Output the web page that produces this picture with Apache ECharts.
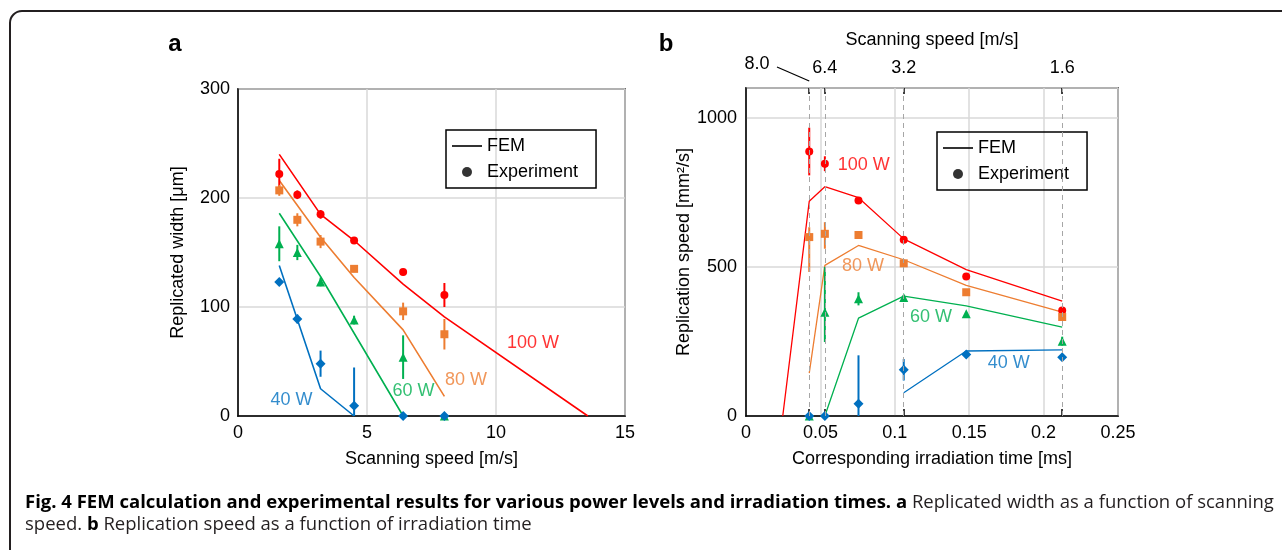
<!DOCTYPE html>
<html>
<head>
<meta charset="utf-8">
<script src="https://cdn.jsdelivr.net/npm/echarts@6/dist/echarts.min.js"></script>
<style>
html, body { margin: 0; padding: 0; background: #fff; }
#main { width: 1282px; height: 550px; }
</style>
</head>
<body>
<div id="main"></div>
<script>
var FONT = '"Liberation Sans", Arial, sans-serif';
var RED = '#ff0000', ORANGE = '#ed7d31', GREEN = '#00b050', BLUE = '#0070c0';

// panel a: replicated width vs scanning speed
var speedA = [1.6, 2.3, 3.2, 4.5, 6.4, 8.0];
var expA100 = [222, 203, 185, 161, 132, 111];
var errA100 = [14, 4, 4, 3, 3, 11];
var expA80 = [207, 180, 160, 135, 96, 75];
var errA80 = [5, 6, 6, 3, 8, 14];
var expA60 = [158, 150, 123, 88, 54, 0];
var errA60 = [16, 7, 4, 4, 20, 0];
var expA40 = [123, 89, 48, 9.5, 0, 0];
var errA40 = [3, 4, 12, 35, 0, 0];

var femAx100 = [1.6, 3.2, 4.5, 6.4, 8.0, 13.56];
var femAy100 = [240, 185, 161, 121, 91, 0];
var femAx80 = [1.6, 3.2, 4.5, 6.4, 8.0];
var femAy80 = [216, 164, 127, 79, 18];
var femAx60 = [1.6, 3.2, 6.4];
var femAy60 = [186, 128, 0];
var femAx40 = [1.6, 3.2, 4.5];
var femAy40 = [138, 25, 0];

// panel b: replication speed vs irradiation time
var timeB = [0.0425, 0.053, 0.0756, 0.106, 0.148, 0.2125];
var expB100 = [887, 846, 723, 591, 468, 354];
var errB100 = [80, 25, 10, 8, 5, 8];
var expB80 = [600, 611, 607, 512, 415, 332];
var errB80 = [[117, 33], [50, 39], 5, 10, 5, 6];
var expB60 = [0, 348, 393, 397, 343, 251];
var errB60 = [0, [100, 152], 22, 8, 6, 15];
var expB40 = [0, 0, 41.5, 155, 206, 197];
var errB40 = [0, 0, 162, 36, 3, 3];

var femBx100 = [0.0247, 0.0425, 0.053, 0.0756, 0.106, 0.148, 0.2125];
var femBy100 = [0, 720, 769, 732, 594, 491, 385];
var femBx80 = [0.0425, 0.053, 0.0756, 0.106, 0.148, 0.2125];
var femBy80 = [144, 505, 572, 524, 438, 348];
var femBx60 = [0.053, 0.0756, 0.106, 0.148, 0.2125];
var femBy60 = [0, 328, 402, 369, 298];
var femBx40 = [0.106, 0.148, 0.2125];
var femBy40 = [78, 218, 222];

// top axis of panel b: scanning speed at the matching irradiation time
var topTicks = [0.0425, 0.053, 0.106, 0.2125];
var topSpeeds = ['8.0', '6.4', '3.2', '1.6'];

var powerNames = ['100 W', '80 W', '60 W', '40 W'];
var labelPosA = [[11.43, 67], [8.84, 33], [6.8, 23], [2.07, 15]];
var labelPosB = [[0.0791, 840], [0.0786, 503], [0.1243, 332], [0.1766, 176]];
var colors = [RED, ORANGE, GREEN, BLUE];
var symbols = ['circle', 'rect', 'triangle', 'diamond'];
var symbolSizes = [8, 8, 9, 10];

function zip(xs, ys) {
    return xs.map(function (x, i) { return [x, ys[i]]; });
}

function femLine(xi, xs, ys, color, w) {
    return {
        type: 'line', xAxisIndex: xi, yAxisIndex: xi, data: zip(xs, ys),
        symbol: 'none', silent: true, z: 2, clip: true,
        lineStyle: { color: color, width: w }
    };
}

function expPoints(xi, xs, ys, symbol, color, size) {
    return {
        type: 'scatter', xAxisIndex: xi, yAxisIndex: xi, data: zip(xs, ys),
        symbol: symbol, symbolSize: size, silent: true, z: 4, clip: false,
        itemStyle: { color: color, opacity: 1 }
    };
}

function errBars(xi, xs, ys, err, color, w) {
    var data = [];
    xs.forEach(function (x, i) {
        var e = err[i];
        var dn = Array.isArray(e) ? e[0] : e;
        var up = Array.isArray(e) ? e[1] : e;
        if (dn + up > 0) data.push([x, ys[i] - dn, ys[i] + up]);
    });
    return {
        type: 'custom', xAxisIndex: xi, yAxisIndex: xi, silent: true, clip: true, z: 3,
        renderItem: function (params, api) {
            var p0 = api.coord([api.value(0), api.value(1)]);
            var p1 = api.coord([api.value(0), api.value(2)]);
            return {
                type: 'line',
                shape: { x1: p0[0], y1: p0[1], x2: p1[0], y2: p1[1] },
                style: { stroke: color, lineWidth: w }
            };
        },
        data: data
    };
}

function powerLabels(xi, pos) {
    return {
        type: 'scatter', xAxisIndex: xi, yAxisIndex: xi, symbolSize: 0, silent: true, z: 5,
        data: pos.map(function (p, i) {
            return {
                value: p, name: powerNames[i],
                label: { show: true, position: 'inside', formatter: '{b}', color: colors[i],
                    fontSize: 18, fontFamily: FONT }
            };
        })
    };
}

var series = [];
var expA = [expA100, expA80, expA60, expA40], errA = [errA100, errA80, errA60, errA40];
var femAx = [femAx100, femAx80, femAx60, femAx40], femAy = [femAy100, femAy80, femAy60, femAy40];
var expB = [expB100, expB80, expB60, expB40], errB = [errB100, errB80, errB60, errB40];
var femBx = [femBx100, femBx80, femBx60, femBx40], femBy = [femBy100, femBy80, femBy60, femBy40];

for (var k = 0; k < 4; k++) {
    series.push(femLine(0, femAx[k], femAy[k], colors[k], 1.6));
    series.push(errBars(0, speedA, expA[k], errA[k], colors[k], 2));
    series.push(femLine(1, femBx[k], femBy[k], colors[k], 1.3));
    series.push(errBars(1, timeB, expB[k], errB[k], colors[k], 2));
}
for (var m = 0; m < 4; m++) {
    series.push(expPoints(0, speedA, expA[m], symbols[m], colors[m], symbolSizes[m]));
    series.push(expPoints(1, timeB, expB[m], symbols[m], colors[m], symbolSizes[m]));
}
series.push(powerLabels(0, labelPosA));
series.push(powerLabels(1, labelPosB));

// dashed guides at the measured irradiation times
series.push({
    type: 'line', xAxisIndex: 1, yAxisIndex: 1, data: [], silent: true,
    markLine: {
        silent: true, symbol: 'none', precision: 5, label: { show: false },
        lineStyle: { type: [5, 4], color: '#a6a6a6', width: 1 },
        data: topTicks.map(function (t) { return { xAxis: t }; })
    }
});

// legend entries
series.push({ name: 'FEM', type: 'scatter', data: [], itemStyle: { color: '#000' } });
series.push({ name: 'Experiment', type: 'scatter', data: [], symbol: 'circle',
    itemStyle: { color: '#000' } });

var gridLine = { show: true, lineStyle: { color: '#d9d9d9', width: 1.5 } };
var axisLine = { show: true, onZero: false, lineStyle: { color: '#000', width: 1.5 } };
var tickLabel = { color: '#000', fontSize: 18, fontFamily: FONT, margin: 8 };
var nameStyle = { color: '#000', fontSize: 18, fontFamily: FONT };

function legendBox(left, top) {
    return {
        left: left, top: top, orient: 'vertical',
        data: [{ name: 'FEM', icon: 'path://M0 0H30V2H0Z' }, { name: 'Experiment', icon: 'circle' }],
        borderColor: '#000', borderWidth: 1.5, padding: [7, 18, 7, 6], itemGap: 8,
        itemWidth: 30, itemHeight: 10, selectedMode: false, symbolKeepAspect: true,
        textStyle: { color: '#000', fontSize: 18, fontFamily: FONT }
    };
}

var chart = echarts.init(document.getElementById('main'));
chart.setOption({
    animation: false,
    backgroundColor: '#fff',
    grid: [
        { left: 238, top: 89, width: 387, height: 327, show: true, borderColor: '#000', borderWidth: 1.5 },
        { left: 746, top: 88, width: 372, height: 328, show: true, borderColor: '#000', borderWidth: 1.5 }
    ],
    legend: [legendBox(446, 130), legendBox(937, 132)],
    xAxis: [
        { gridIndex: 0, type: 'value', min: 0, max: 15, interval: 5,
          name: 'Scanning speed [m/s]', nameLocation: 'middle', nameGap: 34, nameTextStyle: nameStyle,
          axisLine: axisLine, axisTick: { show: false }, axisLabel: tickLabel, splitLine: gridLine },
        { gridIndex: 1, type: 'value', min: 0, max: 0.25, interval: 0.05,
          name: 'Corresponding irradiation time [ms]', nameLocation: 'middle', nameGap: 34, nameTextStyle: nameStyle,
          axisLine: axisLine, axisTick: { show: false }, axisLabel: tickLabel, splitLine: gridLine },
        { gridIndex: 1, type: 'value', min: 0, max: 0.25, position: 'top',
          name: 'Scanning speed [m/s]', nameLocation: 'middle', nameGap: 39, nameTextStyle: nameStyle,
          axisLine: { show: false }, splitLine: { show: false },
          axisTick: { show: true, customValues: topTicks, length: 7, lineStyle: { color: '#000', width: 1.5 } },
          axisLabel: { color: '#000', fontSize: 18, fontFamily: FONT, margin: 11,
              customValues: topTicks.slice(1),
              formatter: function (v) {
                  var i = topTicks.indexOf(v);
                  return i >= 0 ? topSpeeds[i] : '';
              } } },
        { gridIndex: 1, type: 'value', min: 0, max: 0.25, position: 'top',
          axisLine: { show: false }, splitLine: { show: false }, axisLabel: { show: false },
          axisTick: { show: true, inside: true, customValues: topTicks, length: 6,
              lineStyle: { color: '#000', width: 1.5 } } }
    ],
    yAxis: [
        { gridIndex: 0, type: 'value', min: 0, max: 300, interval: 100,
          name: 'Replicated width [μm]', nameLocation: 'middle', nameGap: 51, nameTextStyle: nameStyle,
          axisLine: axisLine, axisTick: { show: false }, axisLabel: tickLabel, splitLine: gridLine },
        { gridIndex: 1, type: 'value', min: 0, max: 1100, interval: 500,
          name: 'Replication speed [mm²/s]', nameLocation: 'middle', nameGap: 51, nameTextStyle: nameStyle,
          axisLine: axisLine, axisTick: { show: false },
          axisLabel: { color: '#000', fontSize: 18, fontFamily: FONT, margin: 9, showMaxLabel: false,
              formatter: function (v) { return String(v); } },
          splitLine: gridLine }
    ],
    series: series
});

// leader line for the crowded 8.0 label, figure frame, panel letters and caption
var tickPx = chart.convertToPixel({ xAxisIndex: 2 }, topTicks[0]);
var capFont = '"Open Sans", "Noto Sans", sans-serif';
var capNormal = { fontSize: 18.5, fontFamily: capFont, fill: '#231f20' };
var capBold = { fontSize: 18.5, fontFamily: capFont, fill: '#000', fontWeight: 'bold' };
chart.setOption({
    graphic: [
        { type: 'rect', shape: { x: 10, y: 11, width: 1300, height: 580, r: 12 },
          style: { fill: null, stroke: '#231f20', lineWidth: 2 }, silent: true },
        { type: 'text', x: 175, y: 44, style: { text: 'a', fontSize: 24, fontWeight: 'bold',
          fontFamily: FONT, fill: '#000', align: 'center', verticalAlign: 'middle' } },
        { type: 'text', x: 666, y: 44, style: { text: 'b', fontSize: 24, fontWeight: 'bold',
          fontFamily: FONT, fill: '#000', align: 'center', verticalAlign: 'middle' } },
        { type: 'text', x: 757, y: 64, style: { text: topSpeeds[0], fontSize: 18,
          fontFamily: FONT, fill: '#000', align: 'center', verticalAlign: 'middle' } },
        { type: 'line', shape: { x1: 777, y1: 67, x2: tickPx, y2: 81 },
          style: { stroke: '#000', lineWidth: 1.2 } },
        { type: 'text', x: 25, y: 503, style: {
            text: '{b|Fig. 4 FEM calculation and experimental results for various power levels and irradiation times. a}{n| Replicated width as a function of scanning}',
            verticalAlign: 'middle', rich: { b: capBold, n: capNormal } } },
        { type: 'text', x: 25, y: 525, style: {
            text: '{n|speed. }{b|b}{n| Replication speed as a function of irradiation time}',
            verticalAlign: 'middle', rich: { b: capBold, n: capNormal } } }
    ]
});
</script>
</body>
</html>
